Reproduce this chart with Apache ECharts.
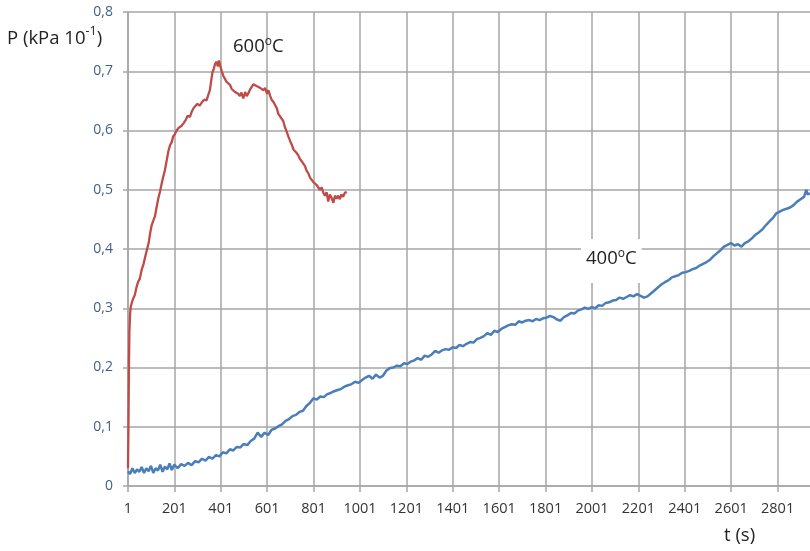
<!DOCTYPE html>
<html><head><meta charset="utf-8">
<script src="https://cdn.jsdelivr.net/npm/echarts@6/dist/echarts.min.js"></script>
<style>html,body{margin:0;padding:0;background:#fff}#c{width:810px;height:551px}</style>
</head><body><div id="c"></div>
<script>
// 400°C series: time (s) and pressure
const blueT = [1,10,20,30,40,50,60,70,80,90,100,110,120,130,140,150,160,170,180,190,200,215,230,245,260,275,290,305,320,335,350,365,380,395,410,425,440,455,470,485,500,515,530,545,560,575,590,605,620,635,650,665,680,695,710,725,740,755,770,785,800,815,830,845,860,875,890,905,920,935,950,965,980,995,1010,1025,1040,1055,1070,1085,1100,1115,1130,1145,1160,1175,1190,1205,1220,1235,1250,1265,1280,1295,1310,1325,1340,1355,1370,1385,1400,1415,1430,1445,1460,1475,1490,1505,1520,1535,1550,1565,1580,1595,1610,1625,1640,1655,1670,1685,1700,1715,1730,1745,1760,1775,1790,1805,1820,1835,1850,1865,1880,1895,1910,1925,1940,1955,1970,1985,2000,2015,2030,2045,2060,2075,2090,2105,2120,2135,2150,2165,2180,2195,2210,2225,2240,2255,2270,2285,2300,2315,2330,2345,2360,2375,2390,2405,2420,2435,2450,2465,2480,2495,2510,2525,2540,2555,2570,2585,2600,2615,2630,2645,2660,2675,2690,2705,2720,2735,2750,2765,2780,2795,2810,2825,2840,2855,2870,2885,2900,2915,2925,2930,2940];
const blueP = [0.025,0.02,0.03,0.022,0.028,0.024,0.032,0.022,0.03,0.025,0.034,0.022,0.03,0.026,0.036,0.024,0.033,0.028,0.038,0.027,0.036,0.03,0.037,0.034,0.039,0.035,0.042,0.04,0.046,0.043,0.049,0.046,0.052,0.05,0.057,0.055,0.062,0.06,0.066,0.065,0.071,0.069,0.076,0.08,0.09,0.083,0.09,0.086,0.095,0.097,0.101,0.104,0.11,0.113,0.118,0.12,0.125,0.127,0.135,0.14,0.148,0.146,0.151,0.15,0.155,0.157,0.16,0.162,0.164,0.168,0.17,0.172,0.176,0.174,0.179,0.183,0.186,0.181,0.188,0.183,0.186,0.195,0.199,0.2,0.203,0.202,0.207,0.206,0.21,0.212,0.216,0.213,0.22,0.218,0.222,0.228,0.225,0.229,0.231,0.23,0.234,0.233,0.238,0.236,0.24,0.243,0.242,0.248,0.25,0.253,0.258,0.255,0.262,0.26,0.265,0.268,0.271,0.273,0.272,0.278,0.276,0.279,0.28,0.278,0.282,0.28,0.283,0.284,0.287,0.285,0.281,0.279,0.285,0.288,0.292,0.291,0.296,0.298,0.301,0.299,0.302,0.3,0.305,0.304,0.309,0.31,0.313,0.314,0.318,0.316,0.319,0.322,0.32,0.324,0.321,0.318,0.32,0.325,0.33,0.335,0.34,0.344,0.347,0.352,0.354,0.356,0.36,0.361,0.363,0.366,0.368,0.372,0.375,0.378,0.382,0.388,0.393,0.398,0.404,0.407,0.41,0.406,0.408,0.404,0.41,0.413,0.418,0.424,0.428,0.433,0.44,0.446,0.452,0.46,0.463,0.466,0.468,0.47,0.474,0.48,0.484,0.488,0.5,0.492,0.494];

// 600°C series: time (s) and pressure
const redT = [1,3,5,7,10,13,18,24,30,38,45,52,60,67,74,82,90,97,103,110,117,124,132,139,146,153,160,168,175,182,189,196,203,211,218,225,232,240,250,258,268,276,284,292,300,310,320,330,340,347,354,360,365,370,376,383,388,393,398,405,412,419,426,433,441,448,455,462,469,476,483,490,498,506,513,520,528,535,541,548,555,562,570,577,585,592,600,606,614,620,628,635,642,649,656,663,670,678,685,692,700,707,714,721,728,735,742,750,757,764,771,778,786,793,800,807,814,821,828,836,843,850,857,864,871,879,886,893,900,907,914,921,928,936,944];
const redP = [0.03,0.1,0.2,0.26,0.29,0.303,0.31,0.317,0.322,0.336,0.345,0.35,0.365,0.373,0.385,0.398,0.41,0.428,0.44,0.448,0.455,0.47,0.486,0.497,0.51,0.522,0.533,0.55,0.565,0.575,0.58,0.59,0.594,0.6,0.604,0.602,0.608,0.612,0.618,0.625,0.623,0.632,0.638,0.636,0.645,0.642,0.648,0.652,0.651,0.66,0.668,0.685,0.698,0.703,0.712,0.716,0.708,0.718,0.71,0.7,0.692,0.69,0.682,0.68,0.677,0.67,0.672,0.665,0.668,0.662,0.658,0.664,0.654,0.665,0.658,0.663,0.67,0.672,0.678,0.68,0.675,0.678,0.672,0.674,0.668,0.672,0.662,0.668,0.658,0.652,0.648,0.645,0.638,0.628,0.626,0.62,0.616,0.605,0.598,0.59,0.582,0.576,0.568,0.565,0.562,0.558,0.552,0.548,0.545,0.54,0.532,0.528,0.52,0.518,0.513,0.516,0.508,0.508,0.5,0.504,0.495,0.49,0.496,0.48,0.492,0.486,0.478,0.49,0.485,0.49,0.484,0.492,0.488,0.495,0.496];

const seriesNames = ['400°C', '600°C'];

const chart = echarts.init(document.getElementById('c'));
const grid = '#a6a6a6';
const toXY = (ts, ps) => ts.map((t, i) => [t - 1, ps[i]]);
const txt = '#222';

chart.setOption({
  animation: false,
  backgroundColor: '#fff',
  grid: { left: 128, top: 12, bottom: 65, right: -14, outerBoundsMode: 'none', containLabel: false },
  xAxis: {
    type: 'value', min: 0, max: 3000, interval: 200,
    axisLine: { show: true, lineStyle: { color: grid, width: 1.5 } },
    axisTick: { show: true, length: 6, lineStyle: { color: grid, width: 1.5 } },
    splitLine: { show: true, lineStyle: { color: grid, width: 1.5 } },
    axisLabel: { margin: 15, color: '#333', fontFamily: 'Open Sans', fontSize: 14.5, showMaxLabel: false,
      formatter: v => String(v + 1) }
  },
  yAxis: {
    type: 'value', min: 0, max: 0.8, interval: 0.1,
    axisLine: { show: true, lineStyle: { color: grid, width: 1.5 } },
    axisTick: { show: true, length: 5, lineStyle: { color: grid, width: 1.5 } },
    splitLine: { show: true, lineStyle: { color: grid, width: 1.5 } },
    axisLabel: { margin: 15, color: '#3f5f8a', fontFamily: 'Open Sans', fontSize: 14,
      formatter: v => v === 0 ? '0' : v.toFixed(1).replace('.', ',') }
  },
  series: [
    { name: seriesNames[0], type: 'line', showSymbol: false, symbol: 'none',
      data: toXY(blueT, blueP), lineStyle: { color: '#4a7ebb', width: 2.5 }, z: 3 },
    { name: seriesNames[1], type: 'line', showSymbol: false, symbol: 'none',
      data: toXY(redT, redP), lineStyle: { color: '#be4b48', width: 2.3 }, z: 4 }
  ],
  graphic: [
    { type: 'text', left: 7, top: 25, z: 10, style: {
        text: '{a|P (kPa 10}{s|-1}{a|)}',
        rich: { a: { fontFamily: 'Open Sans', fontSize: 18.5, fill: txt, verticalAlign: 'bottom' },
                s: { fontFamily: 'Open Sans', fontSize: 12.5, fill: txt, verticalAlign: 'top', padding: [0,0,10,0] } } } },
    { type: 'text', left: 233, top: 36, z: 10, style: {
        text: '600{o|o}C', rich: { o: { fontSize: 12, fontFamily: 'Open Sans', fill: txt, padding: [0,0,9,0] } },
        fontFamily: 'Open Sans', fontSize: 18.5, fill: txt } },
    { type: 'text', left: 581, top: 239, z: 10, style: {
        text: '400{o|o}C', rich: { o: { fontSize: 12, fontFamily: 'Open Sans', fill: txt, padding: [0,0,9,0] } },
        fontFamily: 'Open Sans', fontSize: 18.5, fill: txt, backgroundColor: '#fff', padding: [9, 5, 14, 5] } },
    { type: 'text', left: 724, top: 526, z: 10, style: {
        text: 't (s)', fontFamily: 'Open Sans', fontSize: 18.5, fill: txt } }
  ]
});
</script>
</body></html>
